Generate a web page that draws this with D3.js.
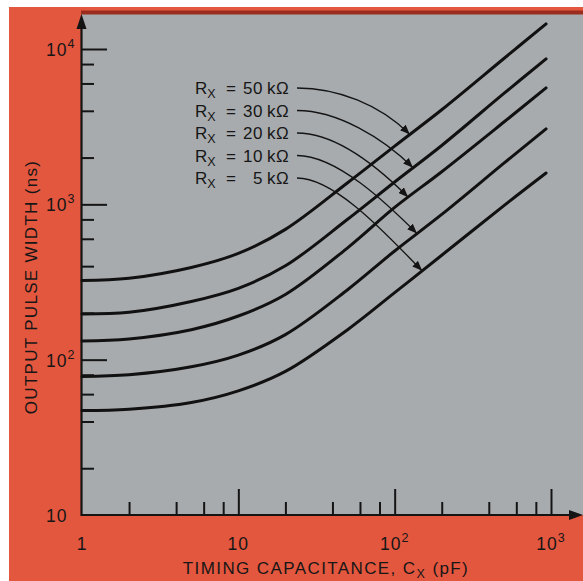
<!DOCTYPE html>
<html>
<head>
<meta charset="utf-8">
<script src="https://cdn.jsdelivr.net/npm/d3@7"></script>
<style>
  body { margin: 0; background: #fff; }
  text { font-family: "Liberation Sans", Arial, sans-serif; fill: #161616; }
</style>
</head>
<body>
<div class="chart"></div>
<script>
// timing capacitance (pF) sampled along each curve
var capacitance = [1, 2, 5, 10, 20, 50, 100, 200, 500, 930];
// output pulse width (ns) for each timing resistor
var rx50 = [323, 334, 392, 483, 690, 1377, 2371, 4064, 8690, 14520];
var rx30 = [197, 202, 237, 288, 402, 802, 1393, 2393, 5176, 8630];
var rx20 = [132, 136, 156, 191, 263, 525, 955, 1622, 3388, 5623];
var rx10 = [78, 80, 90, 107, 145, 282, 501, 861, 1841, 3062];
var rx5 = [47, 48, 53, 63, 84, 156, 270, 470, 982, 1592];
var seriesLabels = ["50", "30", "20", "10", "5"];
// capacitance where each label's arrow lands on its curve
var arrowAt = [125, 131, 122, 139, 150];

var xMajor = [10, 100, 1000];
var xMinor = [2, 4, 6, 8, 20, 40, 60, 80, 200, 400, 600, 800];
var yMajor = [100, 1000, 10000];
var yMinor = [20, 40, 60, 80, 200, 400, 600, 800, 2000, 4000, 6000, 8000];
var xLabelValues = [1, 10, 100, 1000];
var xLabelBase = ["1", "10", "10", "10"];
var xLabelExp = ["", "", "2", "3"];
var yLabelValues = [10, 100, 1000, 10000];
var yLabelExp = ["", "2", "3", "4"];

var w = 583;
var h = 581;

var svg = d3.select(".chart")
            .append("svg")
            .attr("width", w)
            .attr("height", h);

// red card with white edge at left and top
svg.append("rect")
    .attr("x", 9).attr("y", 7)
    .attr("width", w - 9).attr("height", h - 7)
    .attr("fill", "#e4573f");

var x = d3.scaleLog()
          .domain([1, 1000])
          .range([82, 551]);

var y = d3.scaleLog()
          .domain([10, 10000])
          .range([515, 49]);

// gray plot area
svg.append("rect")
    .attr("x", 81).attr("y", 14)
    .attr("width", w - 81).attr("height", 515 - 14)
    .attr("fill", "#a8abae");

svg.append("line")
    .attr("x1", 81).attr("x2", w)
    .attr("y1", 12.5).attr("y2", 12.5)
    .attr("stroke", "#9a2c1e")
    .attr("stroke-width", 4);

// ticks, drawn inward
function tickAxis(axis, values, size, transform){
  svg.append("g")
      .attr("transform", transform)
      .call(axis.tickValues(values).tickSize(size).tickFormat(""))
      .call(function(g){
        g.select(".domain").remove();
        g.selectAll("line").attr("stroke", "#141414").attr("stroke-width", 2);
      });
}

tickAxis(d3.axisBottom(x), xMajor, -26, "translate(0,515)");
tickAxis(d3.axisBottom(x), xMinor, -13, "translate(0,515)");
tickAxis(d3.axisLeft(y), yMajor, -26, "translate(81,0)");
tickAxis(d3.axisLeft(y), yMinor, -13, "translate(81,0)");

// axis lines with arrowheads
svg.append("line")
    .attr("x1", 81).attr("x2", 573)
    .attr("y1", 515).attr("y2", 515)
    .attr("stroke", "#141414").attr("stroke-width", 2.2);
svg.append("path")
    .attr("d", "M583,515 L569,510 L569,520 Z")
    .attr("fill", "#141414");

svg.append("line")
    .attr("x1", 81.5).attr("x2", 81.5)
    .attr("y1", 516).attr("y2", 26)
    .attr("stroke", "#141414").attr("stroke-width", 2.2);
svg.append("path")
    .attr("d", "M81.5,14 L76.5,29 L86.5,29 Z")
    .attr("fill", "#141414");

// curves
var series = [rx50, rx30, rx20, rx10, rx5];

var line = d3.line()
             .x(function(d, i){ return x(capacitance[i]); })
             .y(function(d){ return y(d); })
             .curve(d3.curveCatmullRom.alpha(0.5));

svg.append("g")
    .selectAll("path")
    .data(series)
    .join("path")
      .attr("d", line)
      .attr("fill", "none")
      .attr("stroke", "#111")
      .attr("stroke-width", 3)
      .attr("stroke-linecap", "round");

// value of a curve at capacitance c, log-log interpolation
function valueAt(s, c){
  var lc = capacitance.map(Math.log10);
  var ls = s.map(Math.log10);
  var interp = d3.scaleLinear().domain(lc).range(ls);
  return Math.pow(10, interp(Math.log10(c)));
}

// labels and leaders
svg.append("defs").append("marker")
    .attr("id", "head")
    .attr("viewBox", "0 0 10 8")
    .attr("refX", 10).attr("refY", 4)
    .attr("markerWidth", 10).attr("markerHeight", 8)
    .attr("markerUnits", "userSpaceOnUse")
    .attr("orient", "auto")
  .append("path")
    .attr("d", "M0,0 L10,4 L0,8 Z")
    .attr("fill", "#141414");

var labelG = svg.append("g");

seriesLabels.forEach(function(lab, i){
  var base = 94 + i * 22.5;
  var r = labelG.append("text")
      .attr("x", 195).attr("y", base)
      .style("font-size", "17px");
  r.append("tspan").text("R");
  r.append("tspan").attr("dy", 4).style("font-size", "12.5px").text("X");

  labelG.append("text")
      .attr("x", 226).attr("y", base)
      .style("font-size", "17px")
      .text("=");
  labelG.append("text")
      .attr("x", 263).attr("y", base)
      .attr("text-anchor", "end")
      .style("font-size", "17px")
      .style("letter-spacing", "0.5px")
      .text(lab);
  labelG.append("text")
      .attr("x", 267).attr("y", base)
      .style("font-size", "17px")
      .style("letter-spacing", "0.5px")
      .text("k\u03A9");

  var tx = x(arrowAt[i]);
  var ty = y(valueAt(series[i], arrowAt[i]));
  var sx = 297, sy = base - 6;
  var p = d3.path();
  p.moveTo(sx, sy);
  p.bezierCurveTo(sx + 40, sy, tx - 30, ty - 30, tx, ty);
  labelG.append("path")
      .attr("d", p.toString())
      .attr("fill", "none")
      .attr("stroke", "#141414")
      .attr("stroke-width", 1.3)
      .attr("marker-end", "url(#head)");
});

// tick labels
var yl = svg.append("g");
yLabelValues.forEach(function(v, i){
  var t = yl.append("text")
      .attr("x", 46).attr("y", y(v) + 7)
      .style("font-size", "17.5px")
      .style("letter-spacing", "1px");
  t.append("tspan").text("10");
  if(yLabelExp[i]){
    t.append("tspan").attr("dy", -8).style("font-size", "12.5px").text(yLabelExp[i]);
  }
});

var xl = svg.append("g");
xLabelValues.forEach(function(v, i){
  var t = xl.append("text")
      .attr("x", x(v)).attr("y", 550)
      .attr("text-anchor", "middle")
      .style("font-size", "17.5px")
      .style("letter-spacing", "1px");
  t.append("tspan").text(xLabelBase[i]);
  if(xLabelExp[i]){
    t.append("tspan").attr("dy", -8).style("font-size", "12.5px").text(xLabelExp[i]);
  }
});

// axis titles
var xt = svg.append("text")
    .attr("x", 326).attr("y", 574)
    .attr("text-anchor", "middle")
    .style("font-size", "17px")
    .style("letter-spacing", "1.4px");
xt.append("tspan").text("TIMING CAPACITANCE, C");
xt.append("tspan").attr("dy", 4).style("font-size", "12.5px").text("X");
xt.append("tspan").attr("dy", -4).text(" (pF)");

svg.append("text")
    .attr("transform", "translate(37,287) rotate(-90)")
    .attr("text-anchor", "middle")
    .style("font-size", "17px")
    .style("letter-spacing", "1.3px")
    .text("OUTPUT PULSE WIDTH (ns)");
</script>
</body>
</html>
